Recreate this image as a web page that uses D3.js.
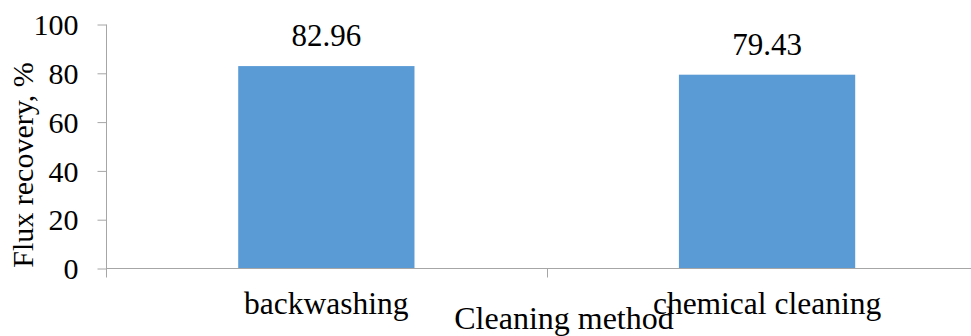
<!DOCTYPE html>
<html>
<head>
<meta charset="utf-8">
<script src="https://cdn.jsdelivr.net/npm/d3@7"></script>
<style>
  html, body { margin: 0; padding: 0; background: #fff; }
  svg { display: block; }
</style>
</head>
<body>
<svg id="chart" width="971" height="336"></svg>
<script>
const categories = ["backwashing", "chemical cleaning"];
const values = [82.96, 79.43];
const valueLabels = ["82.96", "79.43"];
const yTicks = [0, 20, 40, 60, 80, 100];
const yTitle = "Flux recovery, %";
const xTitle = "Cleaning method";

const FONT = "Liberation Serif";
const svg = d3.select("#chart").attr("font-family", FONT);
const W = 971, H = 336;
const x0 = 106, x1 = 987.4, yTop = 24.5, yBot = 268.5;
const axisColor = "#A6A6A6";
const barColor = "#5B9BD5";

const x = d3.scaleBand().domain(categories).range([x0, x1]).paddingInner(0.6).paddingOuter(0.3);
const y = d3.scaleLinear().domain([0, 100]).range([yBot, yTop]);

// Bars
svg.append("g").selectAll("rect").data(values).join("rect")
  .attr("x", (d, i) => x(categories[i]))
  .attr("width", x.bandwidth())
  .attr("y", d => y(d))
  .attr("height", d => y(0) - y(d) - 0.5)
  .attr("fill", barColor);

// Y axis
const yAxis = svg.append("g").attr("transform", `translate(${x0 + 0.5},0)`)
  .call(d3.axisLeft(y).tickValues(yTicks).tickSize(9).tickPadding(19).tickSizeOuter(0));
yAxis.attr("font-family", FONT).attr("font-size", 30);
yAxis.select(".domain").remove();
yAxis.selectAll(".tick line").attr("stroke", axisColor);
yAxis.selectAll(".tick text").attr("fill", "#000").attr("dy", "0.34em")
  .attr("font-family", FONT).attr("font-size", 30);
svg.append("line").attr("x1", x0 + 0.5).attr("x2", x0 + 0.5).attr("y1", yTop).attr("y2", yBot + 9)
  .attr("stroke", axisColor);

// X axis line and boundary ticks
svg.append("line").attr("x1", x0).attr("x2", W).attr("y1", yBot).attr("y2", yBot).attr("stroke", axisColor);
const step = x.step();
const boundaries = categories.map((c, i) => x0 + step * (i + 1));
svg.append("g").selectAll("line").data(boundaries).join("line")
  .attr("x1", d => Math.round(d) + 0.5).attr("x2", d => Math.round(d) + 0.5)
  .attr("y1", yBot).attr("y2", yBot + 9).attr("stroke", axisColor);

// Category labels
svg.append("g").selectAll("text").data(categories).join("text")
  .attr("x", d => x(d) + x.bandwidth() / 2)
  .attr("y", 314)
  .attr("text-anchor", "middle")
  .attr("font-family", FONT)
  .attr("font-size", 31.5)
  .text(d => d);

// Value labels
svg.append("g").selectAll("text").data(values).join("text")
  .attr("x", (d, i) => x(categories[i]) + x.bandwidth() / 2)
  .attr("y", d => y(d) - 20)
  .attr("text-anchor", "middle")
  .attr("font-family", FONT)
  .attr("font-size", 31)
  .text((d, i) => valueLabels[i]);

// Axis titles
svg.append("text")
  .attr("transform", `translate(33,165) rotate(-90)`)
  .attr("text-anchor", "middle")
  .attr("font-family", FONT)
  .attr("font-size", 30)
  .text(yTitle);

svg.append("text")
  .attr("x", 564).attr("y", 329)
  .attr("text-anchor", "middle")
  .attr("font-family", FONT)
  .attr("font-size", 32)
  .text(xTitle);
</script>
</body>
</html>
